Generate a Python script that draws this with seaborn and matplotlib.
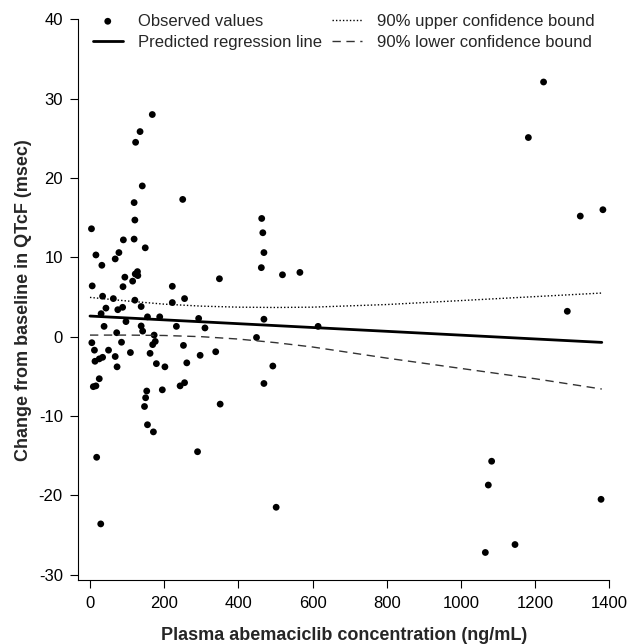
import pandas as pd
import seaborn as sns
import matplotlib.pyplot as plt

sns.set_style("ticks")
plt.rcParams['font.family'] = ['Liberation Sans', 'DejaVu Sans']
plt.rcParams['axes.unicode_minus'] = False

conc = [4, 6, 5, 12, 13.5, 25, 34, 9, 16, 25, 18, 29, 16, 32, 34, 43, 30, 38,
        63, 75, 88, 72, 85, 50, 68, 73, 97, 109, 68, 78, 90, 94, 89, 115, 122,
        128, 129, 119, 121, 119, 123, 135, 168, 141, 149, 121, 138, 155, 138,
        142, 173, 176, 169, 162, 179, 202, 153, 150, 147, 155, 171, 195, 188,
        222, 222, 233, 255, 250, 243, 255, 252, 261, 297, 293, 290, 310, 339,
        349, 351, 463, 466, 469, 462, 469, 449, 469, 493, 502, 519, 566, 615,
        1066, 1074, 1083, 1146, 1182, 1223, 1287, 1322, 1383, 1378]
qtcf = [13.6, 6.4, -0.76, -1.7, -3.1, -2.8, -2.6, -6.3, -6.2, -5.3, -15.2, -23.6,
        10.3, 9.0, 5.1, 3.6, 2.9, 1.3, 4.8, 3.4, 3.7, 0.5, -0.7, -1.7, -2.5, -3.8,
        1.9, -2.0, 9.8, 10.6, 12.2, 7.5, 6.3, 7.0, 7.9, 8.2, 7.7, 12.3, 14.7, 16.9,
        24.5, 25.85, 28.0, 19.0, 11.2, 4.6, 3.8, 2.5, 1.35, 0.7, 0.2, -0.6, -1.0,
        -2.1, -3.4, -3.8, -6.85, -7.7, -8.8, -11.1, -12.0, -6.7, 2.5, 6.35, 4.3,
        1.3, 4.8, 17.3, -6.2, -5.8, -1.1, -3.3, -2.35, 2.3, -14.5, 1.1, -1.9, 7.3,
        -8.5, 14.9, 13.1, 10.6, 8.7, 2.2, -0.1, -5.9, -3.7, -21.5, 7.8, 8.1, 1.3,
        -27.2, -18.7, -15.7, -26.2, 25.1, 32.1, 3.2, 15.2, 16.0, -20.5]

# regression line and 90% confidence bounds
reg_x = [0, 1380]
reg_y = [2.6, -0.72]
band_x = [0, 100, 200, 300, 400, 500, 600, 800, 1000, 1200, 1380]
upper = [4.95, 4.5, 4.1, 3.85, 3.72, 3.68, 3.72, 4.05, 4.55, 5.05, 5.5]
lower = [0.2, 0.2, 0.15, 0.0, -0.3, -0.75, -1.3, -2.7, -4.0, -5.3, -6.6]

df = pd.DataFrame({'conc': conc, 'qtcf': qtcf})

fig = plt.figure(figsize=(6.3, 6.44), dpi=100)
ax = fig.add_axes([0.124, 0.099, 0.843, 0.871])

sns.scatterplot(data=df, x='conc', y='qtcf', ax=ax, color='black', s=24,
                edgecolor='none', label='Observed values')
sns.lineplot(x=reg_x, y=reg_y, ax=ax, color='black', lw=2,
             label='Predicted regression line')
sns.lineplot(x=band_x, y=upper, ax=ax, color='black', lw=1,
             linestyle=(0, (1, 1.5)), label='90% upper confidence bound')
sns.lineplot(x=band_x, y=lower, ax=ax, color='#333333', lw=1,
             linestyle=(0, (6, 4)), label='90% lower confidence bound')

ax.set_xlim(-32, 1400)
ax.set_ylim(-30.7, 40)
ax.set_xticks(range(0, 1401, 200))
ax.set_yticks(range(-30, 41, 10))
ax.tick_params(direction='out', length=6, width=0.8, pad=5, labelsize=12,
               colors='black')
sns.despine(ax=ax)
for sp in ['left', 'bottom']:
    ax.spines[sp].set_color('black')
    ax.spines[sp].set_linewidth(0.8)

ax.set_xlabel('Plasma abemaciclib concentration (ng/mL)', fontsize=13,
              fontweight='bold', labelpad=12)
ax.set_ylabel('Change from baseline in QTcF (msec)', fontsize=13,
              fontweight='bold', labelpad=5)

ax.legend(loc='upper left', bbox_to_anchor=(0.015, 1.022), ncol=2, frameon=False,
          fontsize=12, handlelength=1.8, handletextpad=0.9, columnspacing=0.6,
          labelspacing=0.4, borderaxespad=0)

fig.savefig('out.png', dpi=100)
